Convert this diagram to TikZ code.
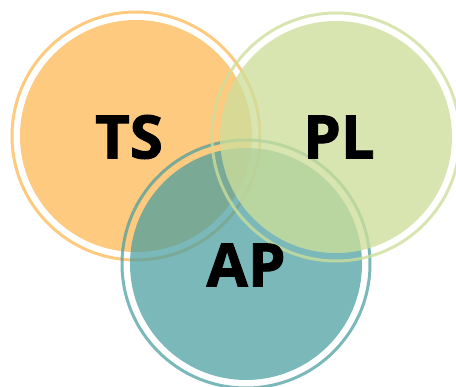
\documentclass[tikz,border=0pt]{standalone}
\usepackage{fontspec}
\setmainfont{Open Sans}
\newfontfamily\heavyfont{Open Sans}[BoldFeatures={FakeBold=1.6}]
\definecolor{tsorange}{RGB}{253,202,127}
\definecolor{plgreen}{RGB}{205,222,154}
\definecolor{apteal}{RGB}{74,158,159}
\begin{document}
\begin{tikzpicture}[x=1pt,y=-1pt,
  blob/.style={circle, inner sep=0pt, minimum size=232pt, draw=none},
  ringc/.style={circle, inner sep=0pt, minimum size=248pt, line width=3pt, fill=none},
  lbl/.style={font=\heavyfont\fontsize{60}{60}\selectfont\bfseries, text=black, inner sep=0pt}]
\useasboundingbox (0,0) rectangle (456,387);
% TS
\node[blob, fill=tsorange] (tsfill) at (136,136) {};
\node[ringc, draw=tsorange] (tsring) at (136,136) {};
% AP
\begin{scope}[opacity=0.73]
\node[blob, fill=apteal] (apfill) at (246,264) {};
\node[ringc, draw=apteal] (apring) at (246,264) {};
\end{scope}
% PL
\begin{scope}[opacity=0.78]
\node[blob, fill=plgreen] (plfill) at (336,137) {};
\node[ringc, draw=plgreen] (plring) at (336,137) {};
\end{scope}
% labels
\node[lbl] (ts) at (129,137) {TS};
\node[lbl] (pl) at (339,137) {PL};
\node[lbl] (ap) at (246,265) {AP};
\end{tikzpicture}
\end{document}
